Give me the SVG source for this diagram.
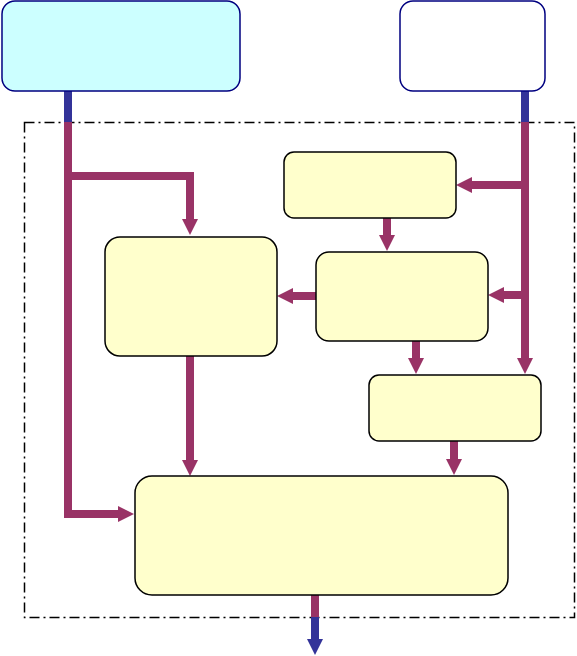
<svg xmlns="http://www.w3.org/2000/svg" width="577" height="656" viewBox="0 0 577 656">
<defs>
<marker id="ap" markerUnits="userSpaceOnUse" markerWidth="18" markerHeight="18" refX="0" refY="8" orient="auto"><path d="M0,0 L16,8 L0,16 Z" fill="#993366"/></marker>
<marker id="ab" markerUnits="userSpaceOnUse" markerWidth="18" markerHeight="18" refX="0" refY="8" orient="auto"><path d="M0,0 L16,8 L0,16 Z" fill="#333399"/></marker>
</defs>
<style>
.in{fill:#ccffff;stroke:#000080;stroke-width:1.5}
.out{fill:#ffffff;stroke:#000080;stroke-width:1.5}
.bx{fill:#ffffcc;stroke:#000000;stroke-width:1.5}
.p{fill:none;stroke:#993366;stroke-width:8}
.b{fill:none;stroke:#333399;stroke-width:8}
.frame{fill:none;stroke:#000000;stroke-width:1.5;stroke-dasharray:10 4 2 4}
</style>
<rect class="frame" x="24.5" y="122.5" width="550" height="495"/>
<g id="connectors">
<path class="b" d="M68,91 V122"/>
<path class="b" d="M525,91 V122"/>
<path class="p" d="M68,122 V514 H118" marker-end="url(#ap)"/>
<path class="p" d="M68,176 H190 V219" marker-end="url(#ap)"/>
<path class="p" d="M525,122 V358" marker-end="url(#ap)"/>
<path class="p" d="M525,185 H472" marker-end="url(#ap)"/>
<path class="p" d="M525,295 H504" marker-end="url(#ap)"/>
<path class="p" d="M387,218 V235" marker-end="url(#ap)"/>
<path class="p" d="M316,296 H293" marker-end="url(#ap)"/>
<path class="p" d="M416,341 V358" marker-end="url(#ap)"/>
<path class="p" d="M190,356 V460" marker-end="url(#ap)"/>
<path class="p" d="M454,441 V459" marker-end="url(#ap)"/>
<path class="p" d="M315,595 V617"/>
<path class="b" d="M315,617 V639" marker-end="url(#ab)"/>
</g>
<g id="n1"><rect class="in" x="2" y="1" width="238" height="90" rx="13"/></g>
<g id="n2"><rect class="out" x="400" y="1" width="145" height="90" rx="13"/></g>
<g id="nA"><rect class="bx" x="105" y="237" width="172" height="119" rx="15"/></g>
<g id="nB"><rect class="bx" x="284" y="152" width="172" height="66" rx="10"/></g>
<g id="nC"><rect class="bx" x="316" y="252" width="172" height="89" rx="13"/></g>
<g id="nD"><rect class="bx" x="369" y="375" width="172" height="66" rx="10"/></g>
<g id="nE"><rect class="bx" x="135" y="476" width="373" height="119" rx="17"/></g>
</svg>
